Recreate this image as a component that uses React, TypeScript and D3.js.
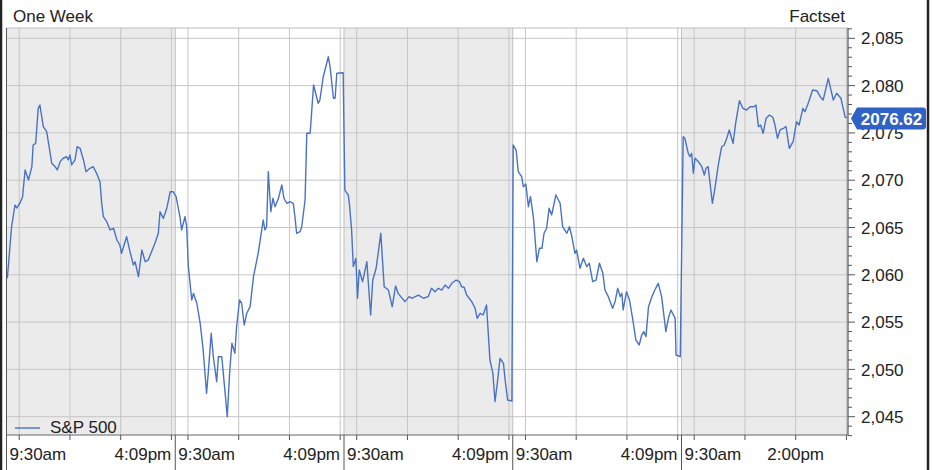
import React from 'react';
import * as d3 from 'd3';

// ---- data ----
const title = 'One Week';
const source = 'Factset';
const seriesName = 'S&P 500';
const lastValue = 2076.62;
const sessionMinutes = 399; // 9:30am .. 4:09pm
const gridMinutes = [30, 150, 270, 390]; // 10:00, 12:00, 14:00, 16:00
const yTicks = [2045, 2050, 2055, 2060, 2065, 2070, 2075, 2080, 2085];
const shadedDays = [0, 2, 4];

// [minutes after 9:30, value]
const day1: [number, number][] = [[2,2059.63],[12,2065.08],[20,2067.38],[24,2067.06],[32,2067.59],[38,2068.26],[44,2071.08],[52,2070.02],[60,2071.43],[63,2073.72],[69,2073.90],[75,2077.60],[79,2077.95],[87,2075.66],[95,2075.13],[107,2071.79],[115,2071.43],[120,2071.08],[127,2071.96],[134,2072.32],[142,2072.48],[146,2072.14],[150,2072.66],[154,2071.61],[162,2072.14],[167,2073.54],[174,2073.37],[182,2072.14],[188,2070.90],[197,2071.26],[205,2071.43],[213,2070.73],[221,2069.84],[225,2067.59],[229,2066.14],[237,2065.61],[245,2064.74],[253,2064.92],[261,2063.68],[268,2063.15],[272,2062.27],[284,2064.03],[292,2062.44],[300,2061.04],[304,2061.38],[312,2059.80],[320,2062.62],[328,2061.38],[335,2061.56],[343,2062.44],[351,2063.33],[359,2064.39],[363,2066.67],[371,2065.97],[379,2067.03],[387,2068.78],[394,2068.78]];
const day2: [number, number][] = [[2,2068.26],[11,2066.14],[15,2064.74],[23,2066.14],[27,2065.08],[31,2060.86],[39,2057.34],[43,2058.04],[51,2056.99],[59,2054.87],[66,2052.05],[74,2047.47],[78,2049.59],[85,2053.82],[90,2051.34],[98,2048.70],[102,2051.34],[110,2051.34],[118,2047.47],[123,2045.00],[129,2049.94],[134,2052.76],[141,2051.70],[145,2054.51],[152,2057.34],[157,2056.99],[163,2054.69],[169,2055.93],[177,2056.63],[185,2059.80],[196,2062.27],[208,2065.79],[212,2064.74],[216,2065.08],[220,2070.90],[226,2066.67],[231,2068.09],[236,2067.20],[244,2068.09],[252,2069.49],[257,2068.09],[264,2067.56],[271,2067.73],[279,2067.56],[283,2066.14],[287,2064.39],[295,2064.56],[299,2065.08],[307,2067.91],[311,2074.96],[319,2074.96],[327,2080.06],[338,2078.13],[342,2078.48],[350,2080.94],[362,2083.05],[366,2082.00],[374,2078.66],[378,2078.66],[382,2081.30],[397,2081.36]];
const day3: [number, number][] = [[2,2068.96],[10,2068.44],[13,2067.40],[18,2064.74],[22,2060.86],[28,2061.74],[32,2057.52],[36,2060.51],[44,2059.27],[54,2061.38],[63,2055.75],[68,2059.45],[76,2060.69],[87,2064.39],[95,2058.74],[105,2058.39],[114,2056.63],[122,2058.82],[128,2058.04],[144,2057.16],[154,2057.69],[160,2057.52],[176,2057.86],[188,2057.52],[199,2057.69],[207,2058.57],[215,2058.21],[223,2058.57],[231,2058.39],[239,2058.92],[247,2058.57],[255,2059.10],[265,2059.45],[273,2059.27],[278,2058.74],[284,2058.68],[290,2057.86],[302,2057.16],[310,2056.46],[315,2055.40],[322,2055.93],[329,2055.75],[337,2056.81],[345,2051.00],[352,2049.59],[357,2046.59],[362,2048.35],[369,2051.17],[377,2050.64],[381,2048.88],[387,2046.76],[397,2046.66]];
const day4: [number, number][] = [[1,2073.72],[8,2073.19],[13,2070.90],[21,2070.37],[25,2069.31],[31,2069.60],[37,2067.20],[42,2068.26],[49,2066.00],[57,2061.38],[63,2062.80],[69,2062.80],[74,2064.39],[80,2064.92],[86,2067.03],[92,2066.32],[102,2068.44],[112,2067.56],[118,2065.08],[128,2064.39],[134,2065.08],[139,2064.21],[147,2062.27],[151,2062.62],[159,2060.69],[167,2061.74],[175,2060.86],[181,2061.22],[189,2059.27],[197,2059.45],[205,2061.22],[213,2060.16],[218,2058.39],[226,2057.69],[236,2056.46],[242,2057.16],[248,2058.57],[254,2057.69],[258,2058.04],[261,2056.28],[269,2058.21],[276,2057.34],[284,2055.22],[291,2053.11],[299,2052.58],[305,2053.64],[310,2053.99],[315,2053.46],[321,2056.63],[329,2057.69],[336,2058.39],[344,2059.10],[352,2057.69],[362,2053.99],[368,2055.40],[374,2056.28],[384,2055.40],[386,2051.52],[396,2051.34]];
const day5: [number, number][] = [[4,2074.60],[8,2074.43],[16,2072.84],[20,2072.48],[24,2072.84],[28,2070.73],[32,2072.32],[40,2071.96],[48,2071.43],[54,2070.55],[58,2071.26],[63,2071.43],[73,2067.56],[79,2069.14],[87,2071.61],[95,2073.54],[101,2073.72],[107,2074.43],[113,2075.31],[122,2073.90],[128,2076.01],[137,2078.40],[145,2077.60],[154,2077.42],[162,2077.77],[171,2077.77],[176,2077.95],[182,2075.66],[187,2075.83],[193,2074.96],[200,2076.54],[208,2076.89],[216,2076.65],[221,2075.83],[227,2074.43],[233,2075.31],[241,2075.49],[247,2075.66],[255,2073.37],[264,2074.07],[272,2076.18],[278,2075.83],[287,2077.60],[292,2077.24],[300,2078.19],[310,2079.53],[320,2079.46],[328,2078.83],[335,2078.48],[347,2080.77],[359,2078.48],[367,2079.19],[377,2078.66],[387,2076.65],[392,2076.62]];
const days = [day1, day2, day3, day4, day5];

// x labels: [day, minute, text, anchor]
const xLabels: [number, number, string, string][] = [
  [0, 0, '9:30am', 'start'], [0, 399, '4:09pm', 'end'],
  [1, 0, '9:30am', 'start'], [1, 399, '4:09pm', 'end'],
  [2, 0, '9:30am', 'start'], [2, 399, '4:09pm', 'end'],
  [3, 0, '9:30am', 'start'], [3, 399, '4:09pm', 'end'],
  [4, 0, '9:30am', 'start'], [4, 270, '2:00pm', 'middle'],
];

const W = 932, H = 470;
const L = 6.5, R = 848, T = 28, B = 435;
const FONT = '"Liberation Sans", Arial, sans-serif';

export default function App() {
  const x = d3.scaleLinear().domain([0, 5 * sessionMinutes]).range([L, L + 5 * 168.75]);
  const y = d3.scaleLinear().domain([2045, 2085]).range([416.7, 38.3]);
  const gx = (d: number, m: number) => x(d * sessionMinutes + m);

  const pts: [number, number][] = [];
  days.forEach((arr, d) => arr.forEach(([m, v]) => pts.push([gx(d, m), y(v)])));
  const line = d3.line<[number, number]>().x(p => p[0]).y(p => p[1]);

  const minorTicks = d3.range(2043, 2087).filter(v => v % 5 !== 0);
  const ly = y(lastValue) + 1;

  return (
    <svg width={W} height={H} style={{ position: 'absolute', left: 0, top: 0, background: '#fff' }} fontFamily={FONT}>
      <defs>
        <clipPath id="plot"><rect x={L} y={T} width={R - L} height={B - T} /></clipPath>
      </defs>
      <rect x={0} y={0} width={W} height={H} fill="#fff" />
      {/* shaded days */}
      {shadedDays.map(d => (
        <rect key={d} x={gx(d, 0)} y={T} width={Math.min(gx(d + 1, 0), R) - gx(d, 0)} height={B - T} fill="#ebebeb" />
      ))}
      {/* horizontal grid */}
      {yTicks.map(v => (
        <line key={v} x1={L} x2={R} y1={y(v)} y2={y(v)} stroke="#c6c6c6" strokeWidth={1} />
      ))}
      {/* vertical grid */}
      {d3.range(5).map(d => gridMinutes.map(m => (
        <line key={d + '-' + m} x1={gx(d, m)} x2={gx(d, m)} y1={T} y2={B} stroke="#c6c6c6" strokeWidth={1} />
      )))}
      {d3.range(1, 5).map(d => (
        <line key={'sep' + d} x1={gx(d, 0)} x2={gx(d, 0)} y1={T} y2={B} stroke="#c0c0c0" strokeWidth={1} />
      ))}
      {/* plot frame */}
      <line x1={L} x2={R} y1={T} y2={T} stroke="#bdbdbd" />
      <line x1={L} x2={L} y1={T} y2={H} stroke="#555" strokeWidth={1} />
      {/* series */}
      <path d={line(pts) || ''} fill="none" stroke="#4a72c4" strokeWidth={1.4} strokeLinejoin="round" clipPath="url(#plot)" />
      {/* legend */}
      <line x1={15} x2={40} y1={428} y2={428} stroke="#4a72c4" strokeWidth={1.4} />
      <text x={50} y={433} fontSize={17} fill="#222">{seriesName}</text>
      {/* x axis */}
      <line x1={L} x2={R} y1={B} y2={B} stroke="#666" strokeWidth={1.2} />
      {d3.range(5).map(d => gridMinutes.map(m => (
        <line key={'t' + d + m} x1={gx(d, m)} x2={gx(d, m)} y1={B} y2={B + 5} stroke="#555" />
      )))}
      {d3.range(1, 5).map(d => (
        <line key={'ds' + d} x1={gx(d, 0)} x2={gx(d, 0)} y1={B} y2={H} stroke="#555" strokeWidth={1} />
      ))}
      {xLabels.map(([d, m, t, a], i) => (
        <text key={i} x={gx(d, m) + (a === 'start' ? 3 : a === 'end' ? -4 : 0)} y={460} fontSize={17} fill="#222" textAnchor={a}>{t}</text>
      ))}
      {/* y axis */}
      <line x1={R} x2={R} y1={T} y2={B} stroke="#555" strokeWidth={1.2} />
      {minorTicks.map(v => (
        <line key={'m' + v} x1={R} x2={R + 4} y1={y(v)} y2={y(v)} stroke="#555" />
      ))}
      {yTicks.map(v => (
        <g key={'y' + v}>
          <line x1={R} x2={R + 7} y1={y(v)} y2={y(v)} stroke="#555" />
          <text x={861} y={y(v)} dy="0.36em" fontSize={17} fill="#222">{d3.format(',')(v)}</text>
        </g>
      ))}
      {/* last value tag */}
      <path d={`M${R + 3},${ly} L${R + 9},${ly - 11} H${W - 9} a3,3 0 0 1 3,3 V${ly + 8} a3,3 0 0 1 -3,3 H${R + 9} Z`} fill="#2f62c4" />
      <text x={(R + 9 + W - 6) / 2} y={ly} dy="0.36em" fontSize={17} fontWeight="bold" fill="#fff" textAnchor="middle">{lastValue.toFixed(2)}</text>
      {/* titles */}
      <text x={13} y={21.5} fontSize={17} fill="#222">{title}</text>
      <text x={845} y={21.5} fontSize={17} fill="#222" textAnchor="end">{source}</text>
      {/* outer frame */}
      <line x1={1} x2={1} y1={0} y2={H} stroke="#222" strokeWidth={2.5} />
      <line x1={928} x2={928} y1={0} y2={H} stroke="#222" strokeWidth={2.5} />
    </svg>
  );
}
